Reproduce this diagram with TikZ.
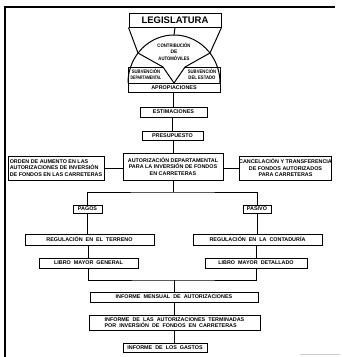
\documentclass[tikz,border=0pt]{standalone}
\usepackage{fontspec}
\setmainfont{Liberation Sans}
\newcommand\fs{\fontsize{5.4}{6.5}\selectfont\bfseries}
\newcommand\fsS{\fontsize{5}{6}\selectfont\bfseries}
\newcommand\fsL{\fontsize{9.5}{10}\selectfont\bfseries}
\begin{document}
\begin{tikzpicture}[x=1pt,y=-1pt,
  box/.style={draw, line width=1pt, inner sep=0pt, font=\fs, align=center},
  lbl/.style={inner sep=0pt, font=\fsS, align=center},
  ln/.style={line width=1pt}]
\useasboundingbox (0,0) rectangle (342,357);
% frame
\draw[line width=1.5pt] (5,357) -- (5,7) -- (335,7);
\draw[gray!40, line width=1pt] (300,354) -- (340,354);
% top
\node[box, font=\fsL, minimum width=92pt, minimum height=14pt] (leg) at (175,20) {LEGISLATURA};
\coordinate (arctop) at (174,35);
\coordinate (al) at (138,53);
\coordinate (ar) at (210,53);
\coordinate (vl) at (163,67);
\coordinate (vr) at (185,67);
\coordinate (vb) at (174,83);
\draw[ln] plot[domain=180:360, samples=80] ({174+46*cos(\x)},{83+48*sin(\x)});
\draw[ln] (leg.south) -- (arctop);
\draw[ln] (leg.south west) -- (al);
\draw[ln] (leg.south east) -- (ar);
\draw[ln] (al) -- (vl) -- (vb) -- (vr) -- (ar);
\draw[ln] (128,83) -- (128,67) -- (vl);
\draw[ln] (220,83) -- (220,67) -- (vr);
\node[lbl] (contr) at (174,51.5) {\scalebox{0.85}[1]{CONTRIBUCIÓN}\\[0.4pt]DE\\[0.4pt]\scalebox{0.85}[1]{AUTOMÓVILES}};
\node[lbl] (subd) at (146,74.5) {\scalebox{0.85}[1]{SUBVENCIÓN}\\\scalebox{0.7}[1]{DEPARTAMENTAL}};
\node[lbl] (sube) at (202,74.5) {\scalebox{0.85}[1]{SUBVENCIÓN}\\\scalebox{0.85}[1]{DEL ESTADO}};
\node[box, minimum width=92pt, minimum height=9pt] (apro) at (174,87.5) {APROPIACIONES};
\node[box, minimum width=67pt, minimum height=10pt] (est) at (173.5,112) {ESTIMACIONES};
\node[box, minimum width=61pt, minimum height=9pt] (pres) at (172.5,135.5) {PRESUPUESTO};
\node[box, minimum width=100pt, minimum height=27pt] (aut) at (173,166.5) {AUTORIZACIÓN DEPARTAMENTAL\\PARA LA INVERSIÓN DE FONDOS\\EN CARRETERAS};
\node[box, minimum width=96pt, minimum height=24pt, align=left] (ord) at (56,168) {ORDEN DE AUMENTO EN LAS\\AUTORIZACIONES DE INVERSIÓN\\DE FONDOS EN LAS CARRETERAS};
\node[box, minimum width=91pt, minimum height=24pt] (can) at (285.5,168) {CANCELACIÓN Y TRANSFERENCIA\\DE FONDOS AUTORIZADOS\\PARA CARRETERAS};
\node[box, minimum width=29pt, minimum height=8pt] (pagos) at (87.5,209) {PAGOS};
\node[box, minimum width=28pt, minimum height=8pt] (pasivo) at (257,209) {PASIVO};
\node[box, minimum width=129pt, minimum height=11pt] (regT) at (89.5,239.5) {REGULACIÓN \ EN \ EL \ TERRENO};
\node[box, minimum width=129pt, minimum height=11pt] (regC) at (257.5,239.5) {REGULACIÓN \ EN \ LA \ CONTADURÍA};
\node[box, minimum width=99pt, minimum height=10pt] (libG) at (88.5,263) {LIBRO \ MAYOR \ GENERAL};
\node[box, minimum width=102pt, minimum height=10pt] (libD) at (256,263) {LIBRO \ MAYOR \ DETALLADO};
\node[box, minimum width=168pt, minimum height=10pt] (mens) at (174,297) {INFORME \ MENSUAL \ DE \ AUTORIZACIONES};
\node[box, minimum width=171pt, minimum height=15pt, align=left] (term) at (174.5,322.5) {INFORME \ DE \ LAS \ AUTORIZACIONES \ TERMINADAS\\POR \ INVERSIÓN \ DE \ FONDOS \ EN \ CARRETERAS};
\node[box, minimum width=84pt, minimum height=9pt] (gast) at (165,347.5) {INFORME \ DE \ LOS \ GASTOS};
% connectors
\coordinate (split) at (173,192);
\coordinate (join) at (174,280);
\draw[ln] (apro.south -| est.north) -- (est.north);
\draw[ln] (est.south -| pres.north) -- (pres.north);
\draw[ln] (pres.south -| aut.north) -- (aut.north);
\draw[ln] (ord.east) -- (ord.east -| aut.west);
\draw[ln] (aut.east |- can.west) -- (can.west);
\draw[ln] (aut.south) -- (split);
\draw[ln] (pagos.north) |- (split) -| (pasivo.north);
\draw[ln] (pagos.south) -- (pagos.south |- regT.north);
\draw[ln] (pasivo.south) -- (pasivo.south |- regC.north);
\draw[ln] (regT.south -| libG.north) -- (libG.north);
\draw[ln] (regC.south -| libD.north) -- (libD.north);
\draw[ln] (libG.south) |- (join) -| (libD.south);
\draw[ln] (join) -- (join |- mens.north);
\draw[ln] (mens.south) -- (mens.south |- term.north);
\draw[ln] (term.south -| join) -- (join |- gast.north);
\end{tikzpicture}
\end{document}
